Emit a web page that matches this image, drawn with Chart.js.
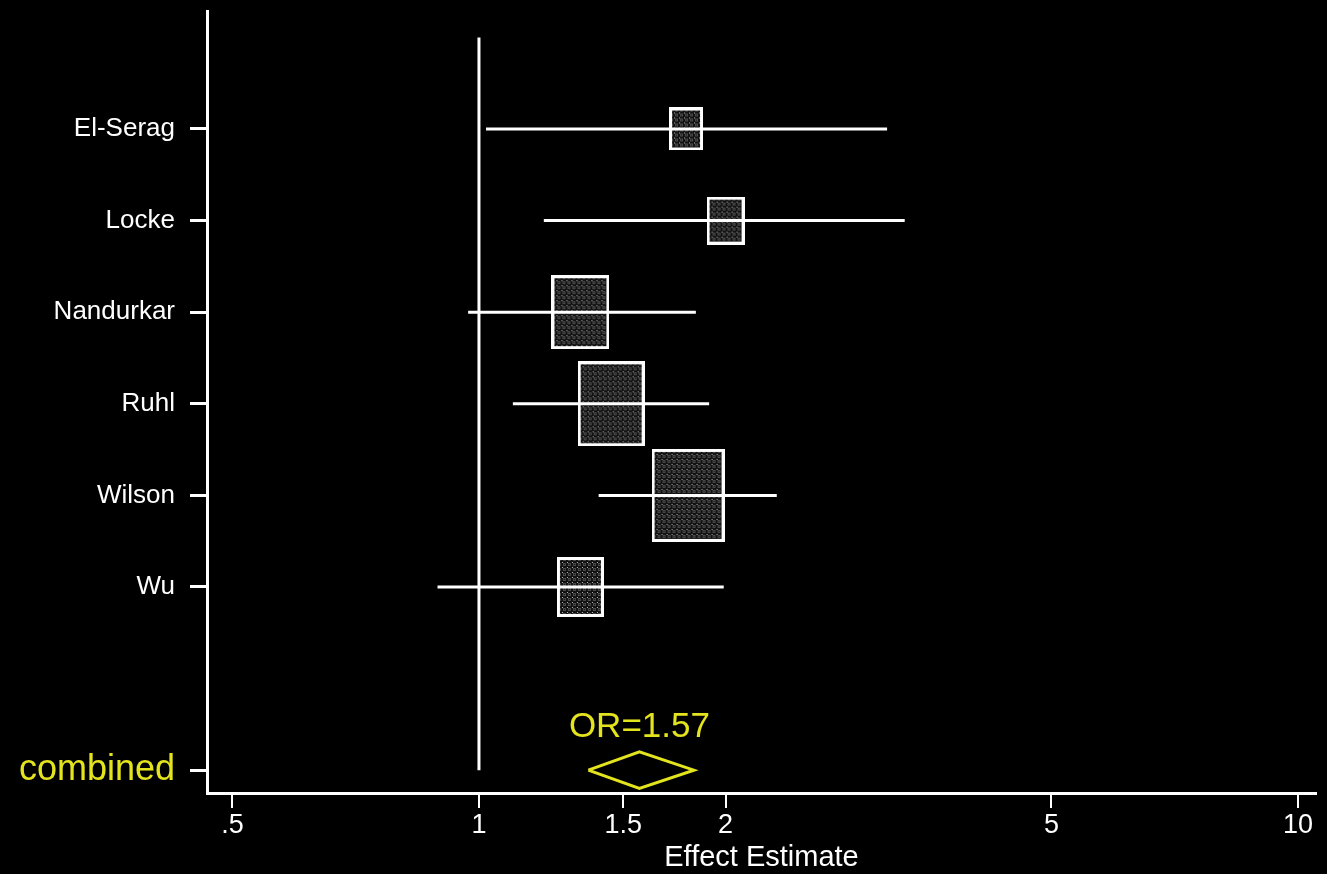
<!DOCTYPE html>
<html>
<head>
<meta charset="utf-8">
<script src="https://cdn.jsdelivr.net/npm/chart.js@4/dist/chart.umd.min.js"></script>
<style>
    html, body { margin: 0; padding: 0; background: #000; }
    #wrap { width: 1327px; height: 874px; position: relative; }
</style>
</head>
<body>
<div id="wrap"><canvas id="forest"></canvas></div>
<script>
const studies = ['El-Serag', 'Locke', 'Nandurkar', 'Ruhl', 'Wilson', 'Wu'];
const estimate = [1.79, 2.00, 1.33, 1.45, 1.80, 1.33];
const lower = [1.02, 1.20, 0.97, 1.10, 1.40, 0.89];
const upper = [3.15, 3.31, 1.84, 1.91, 2.31, 1.99];
const weight = [6.4, 8.0, 18.7, 25.0, 29.6, 12.3];
const combinedLabel = 'combined';
const combinedOR = 1.57;
const combinedCI = [1.36, 1.83];
const xTicks = [0.5, 1, 1.5, 2, 5, 10];
const xTickLabels = ['.5', '1', '1.5', '2', '5', '10'];

const WHITE = '#ffffff';
const YELLOW = '#e4e41e';
const FONT = "'Liberation Sans', Arial, sans-serif";

// rows: studies on 1..6, one blank row, pooled estimate on 8
const studyRows = studies.map((s, i) => i + 1);
const combinedRow = studies.length + 2;

// dotted grey fill used inside the weight boxes
function dotPattern() {
    const c = document.createElement('canvas');
    c.width = 5;
    c.height = 5;
    const g = c.getContext('2d');
    g.fillStyle = '#121212';
    g.fillRect(0, 0, 5, 5);
    g.fillStyle = '#4a4a4a';
    g.fillRect(1, 1, 3, 3);
    g.fillStyle = '#181818';
    g.fillRect(2, 2, 1, 1);
    g.fillStyle = '#b8b8b8';
    g.fillRect(0, 0, 1, 1);
    return c;
}

function boxImage(w) {
    const width = Math.round(13.4 * Math.sqrt(w));
    const height = Math.round(width * 1.27);
    const c = document.createElement('canvas');
    c.width = width;
    c.height = height;
    const g = c.getContext('2d');
    g.fillStyle = g.createPattern(dotPattern(), 'repeat');
    g.fillRect(0, 0, width, height);
    g.strokeStyle = WHITE;
    g.lineWidth = 3;
    g.strokeRect(1.5, 1.5, width - 3, height - 3);
    return c;
}

const datasets = [];

// null line at OR = 1
datasets.push({
    data: [{x: 1, y: 0}, {x: 1, y: combinedRow}],
    showLine: true,
    borderColor: WHITE,
    borderWidth: 3,
    pointRadius: 0,
    order: 1
});

// confidence intervals
studies.forEach((s, i) => {
    datasets.push({
        label: s,
        data: [{x: lower[i], y: studyRows[i]}, {x: upper[i], y: studyRows[i]}],
        showLine: true,
        borderColor: WHITE,
        borderWidth: 3,
        pointRadius: 0,
        order: 1
    });
});

// weight boxes
datasets.push({
    data: studies.map((s, i) => ({x: estimate[i], y: studyRows[i]})),
    pointStyle: weight.map(boxImage),
    pointRadius: 10,
    order: 2
});

// pooled diamond
const dh = 0.2;
datasets.push({
    data: [
        {x: combinedCI[0], y: combinedRow},
        {x: combinedOR, y: combinedRow - dh},
        {x: combinedCI[1], y: combinedRow},
        {x: combinedOR, y: combinedRow + dh},
        {x: combinedCI[0], y: combinedRow}
    ],
    showLine: true,
    borderColor: YELLOW,
    borderWidth: 3,
    borderJoinStyle: 'miter',
    pointRadius: 0,
    tension: 0,
    order: 1
});

const orLabel = {
    id: 'orLabel',
    afterDatasetsDraw(chart) {
        const {ctx, scales} = chart;
        ctx.save();
        ctx.fillStyle = YELLOW;
        ctx.font = '35px ' + FONT;
        ctx.textAlign = 'center';
        ctx.textBaseline = 'middle';
        ctx.fillText('OR=' + combinedOR.toFixed(2),
            scales.x.getPixelForValue(combinedOR),
            scales.y.getPixelForValue(combinedRow - 0.47));
        ctx.restore();
    }
};

new Chart(document.getElementById('forest').getContext('2d'), {
    type: 'scatter',
    data: {datasets: datasets},
    plugins: [orLabel],
    options: {
        responsive: true,
        maintainAspectRatio: false,
        animation: false,
        events: [],
        layout: {padding: {top: 11, right: 5, left: 0, bottom: 0}},
        plugins: {legend: {display: false}, tooltip: {enabled: false}},
        scales: {
            x: {
                type: 'logarithmic',
                min: 0.4655,
                max: 10.52,
                afterBuildTicks: (scale) => {
                    scale.ticks = xTicks.map(v => ({value: v}));
                },
                afterFit: (scale) => {
                    scale.height = 81;
                    scale.paddingLeft = 0;
                    scale.paddingRight = 0;
                },
                border: {display: true, color: WHITE, width: 3},
                grid: {drawOnChartArea: false, drawTicks: true, tickLength: 15, color: WHITE, lineWidth: 2},
                ticks: {
                    color: WHITE,
                    font: {family: FONT, size: 27},
                    padding: 1,
                    maxRotation: 0,
                    autoSkip: false,
                    callback: (v) => xTickLabels[xTicks.indexOf(v)]
                },
                title: {
                    display: true,
                    text: 'Effect Estimate',
                    color: WHITE,
                    font: {family: FONT, size: 29},
                    padding: {top: 0, bottom: -1}
                }
            },
            y: {
                type: 'linear',
                reverse: true,
                min: -0.288,
                max: 8.249,
                afterBuildTicks: (scale) => {
                    scale.ticks = studyRows.concat([combinedRow]).map(v => ({value: v}));
                },
                afterFit: (scale) => {
                    scale.width = 207;
                    scale.paddingTop = 0;
                    scale.paddingBottom = 0;
                },
                border: {display: true, color: WHITE, width: 3},
                grid: {drawOnChartArea: false, drawTicks: true, tickLength: 17, color: WHITE, lineWidth: 3},
                ticks: {
                    autoSkip: false,
                    padding: 15,
                    color: (c) => c.tick && c.tick.value === combinedRow ? YELLOW : WHITE,
                    font: (c) => c.tick && c.tick.value === combinedRow
                        ? {family: FONT, size: 36}
                        : {family: FONT, size: 26},
                    callback: (v) => v === combinedRow ? combinedLabel : studies[v - 1]
                }
            }
        }
    }
});
</script>
</body>
</html>
